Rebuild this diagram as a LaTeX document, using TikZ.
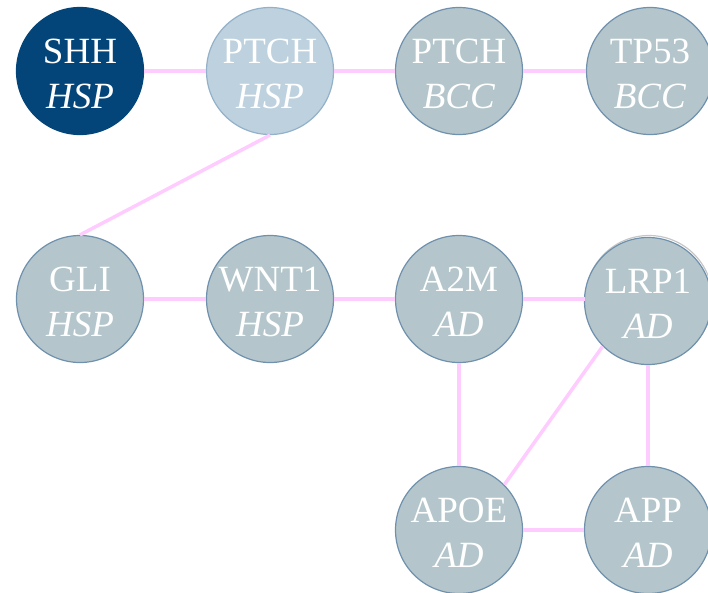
\documentclass[tikz,border=0pt]{standalone}
\usepackage{fontspec}
\setmainfont{Liberation Serif}
\definecolor{genefill}{HTML}{B4C6CB}
\definecolor{geneline}{HTML}{6F91AE}
\definecolor{seedfill}{HTML}{034579}
\definecolor{nbrfill}{HTML}{BED1DE}
\definecolor{nbrline}{HTML}{93B1C9}
\definecolor{linkcol}{HTML}{FFCCFF}
\tikzset{
  gtext/.style={text=white, align=center, yshift=-3pt,
    font=\fontsize{37}{45}\selectfont},
  gene/.style={circle, minimum size=127pt, inner sep=0pt, fill=genefill,
    draw=geneline, line width=1.2pt, label={[gtext]center:#1}},
  seed/.style={gene=#1, fill=seedfill, draw=seedfill},
  nbr/.style={gene=#1, fill=nbrfill, draw=nbrline},
  link/.style={draw=linkcol, line width=3.5pt}
}
\begin{document}
\begin{tikzpicture}[x=1pt, y=-1pt]
\useasboundingbox (0,0) rectangle (708,592);
% top row: hedgehog pathway and BCC
\node[seed={SHH\\\textit{HSP}}]   (shh)   at (80,71)  {};
\node[nbr={PTCH\\\textit{HSP}}]   (ptchh) at (270,71) {};
\node[gene={PTCH\\\textit{BCC}}]  (ptchb) at (459,71) {};
\node[gene={TP53\\\textit{BCC}}]  (tp53)  at (650,71) {};
% middle row
\node[gene={GLI\\\textit{HSP}}]   (gli)   at (80,299)  {};
\node[gene={WNT1\\\textit{HSP}}]  (wnt1)  at (270,299) {};
\node[gene={A2M\\\textit{AD}}]    (a2m)   at (459,299) {};
\node[circle, minimum size=127pt, inner sep=0pt, draw=gray!45, line width=1.2pt] (lrp1b) at (649,299) {};
\node[gene={LRP1\\\textit{AD}}]   (lrp1)  at (648,301) {};
% bottom row
\node[gene={APOE\\\textit{AD}}]   (apoe)  at (459,530) {};
\node[gene={APP\\\textit{AD}}]    (app)   at (648,530) {};
% links
\draw[link] (shh) -- (ptchh);
\draw[link] (ptchh) -- (ptchb);
\draw[link] (ptchb) -- (tp53);
\draw[link] (ptchh.south) -- (gli.north);
\draw[link] (gli) -- (wnt1);
\draw[link] (wnt1) -- (a2m);
\draw[link] (a2m) -- (lrp1b);
\draw[link] (a2m) -- (apoe);
\draw[link] (lrp1.225) -- (apoe.45);
\draw[link] (lrp1) -- (app);
\draw[link] (apoe) -- (app);
\end{tikzpicture}
\end{document}
